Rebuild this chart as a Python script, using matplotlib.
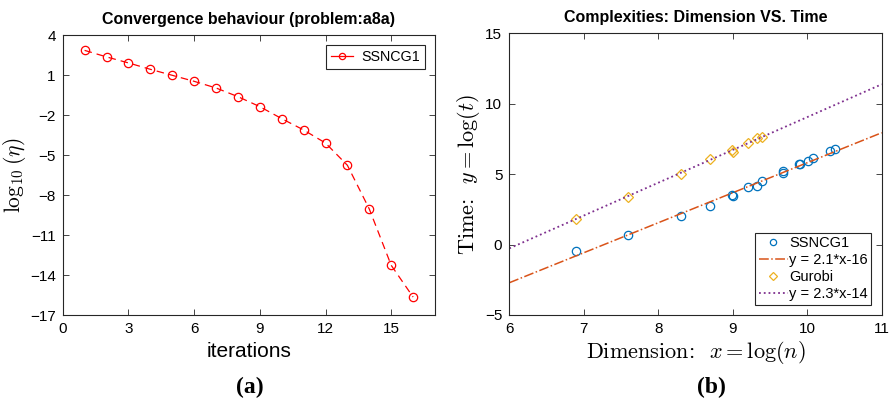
import matplotlib
matplotlib.use("Agg")
import matplotlib.pyplot as plt
import numpy as np

plt.rcParams['font.family'] = ['Liberation Sans', 'DejaVu Sans']
plt.rcParams['mathtext.fontset'] = 'cm'

# ---- data: panel (a) ----
iterations = [1, 2, 3, 4, 5, 6, 7, 8, 9, 10, 11, 12, 13, 14, 15, 16]
log_eta = [2.87, 2.38, 1.93, 1.45, 1.0, 0.55, 0.05, -0.6, -1.35, -2.25,
           -3.1, -4.08, -5.75, -9.03, -13.25, -15.63]

# ---- data: panel (b) ----
ssncg_x = [6.90, 7.60, 8.30, 8.70, 8.99, 9.00, 9.21, 9.32, 9.39, 9.68, 9.68,
           9.89, 9.90, 10.01, 10.08, 10.31, 10.37]
ssncg_y = [-0.46, 0.68, 2.05, 2.76, 3.51, 3.44, 4.11, 4.15, 4.53, 5.22, 5.06,
           5.70, 5.74, 5.93, 6.12, 6.62, 6.78]
gurobi_x = [6.90, 7.60, 8.30, 8.70, 8.99, 9.00, 9.21, 9.32, 9.39]
gurobi_y = [1.79, 3.40, 5.01, 6.05, 6.71, 6.55, 7.23, 7.59, 7.63]
fit1 = (2.13, -15.49)   # slope, intercept (label y = 2.1*x-16)
fit2 = (2.33, -14.25)   # slope, intercept (label y = 2.3*x-14)
fit_x = [6, 11]

W, H = 893, 405
fig = plt.figure(figsize=(W / 100, H / 100), dpi=100)

axcol = '#262626'

def style(ax):
    for s in ax.spines.values():
        s.set_color(axcol)
        s.set_linewidth(0.8)
    ax.tick_params(direction='in', top=True, right=True, colors=axcol,
                   labelsize=11, length=4, width=0.6, pad=5)
    for t in ax.get_xticklabels() + ax.get_yticklabels():
        t.set_color('black')

# ---- panel (a) ----
ax1 = fig.add_axes([62.7 / W, 1 - 315.3 / H, 372.3 / W, 280 / H])
ax1.plot(iterations, log_eta, linestyle=(0, (6, 4)), color='red', lw=0.9,
         marker='o', markersize=6, markerfacecolor='none',
         markeredgecolor='red', markeredgewidth=0.9, label='SSNCG1')
ax1.set_xlim(0, 17)
ax1.set_ylim(-17, 4)
ax1.set_xticks([0, 3, 6, 9, 12, 15])
ax1.set_yticks([4, 1, -2, -5, -8, -11, -14, -17])
style(ax1)
ax1.set_title('Convergence behaviour (problem:a8a)', fontsize=11.5,
              fontweight='bold', pad=8)
ax1.set_xlabel('iterations', fontsize=15, labelpad=4)
ax1.set_ylabel(r'$\log_{10}(\eta)$', fontsize=15.5, labelpad=1)
leg1 = ax1.legend(loc='upper right', fontsize=10.3, fancybox=False,
                  edgecolor=axcol, framealpha=1, handlelength=1.5,
                  borderaxespad=0.7, handletextpad=0.6,
                  borderpad=0.35)
leg1.get_frame().set_linewidth(0.8)
for h in leg1.legend_handles:
    h.set_markersize(4.5)
    h.set_linestyle('-')

# ---- panel (b) ----
ax2 = fig.add_axes([509.3 / W, 1 - 315 / H, 372.4 / W, 281.7 / H])
fx = np.array(fit_x, dtype=float)
ax2.plot(ssncg_x, ssncg_y, linestyle='none', marker='o', markersize=6,
         markerfacecolor='none', markeredgecolor='#0072BD',
         markeredgewidth=0.9, label='SSNCG1')
ax2.plot(fx, fit1[0] * fx + fit1[1], linestyle='-.', color='#D95319', lw=1.1,
         label='y = 2.1*x-16')
ax2.plot(gurobi_x, gurobi_y, linestyle='none', marker='D', markersize=5.5,
         markerfacecolor='none', markeredgecolor='#EDB120',
         markeredgewidth=0.9, label='Gurobi')
ax2.plot(fx, fit2[0] * fx + fit2[1], linestyle=':', color='#7E2F8E', lw=1.3,
         label='y = 2.3*x-14')
ax2.set_xlim(6, 11)
ax2.set_ylim(-5, 15)
ax2.set_xticks([6, 7, 8, 9, 10, 11])
ax2.set_yticks([-5, 0, 5, 10, 15])
style(ax2)
ax2.set_title('Complexities: Dimension VS. Time', fontsize=11.5,
              fontweight='bold', pad=8)
ax2.set_xlabel(r'Dimension:  $x = \log(n)$', fontsize=16, labelpad=2,
               fontfamily='cmr10')
ax2.set_ylabel(r'Time:  $y = \log(t)$', fontsize=16, labelpad=2,
               fontfamily='cmr10')
leg2 = ax2.legend(loc='lower right', fontsize=10.5, fancybox=False,
                  edgecolor=axcol, framealpha=1, handlelength=2.0,
                  borderaxespad=0.7, handletextpad=0.1,
                  borderpad=0.25, labelspacing=0.2)
leg2.get_frame().set_linewidth(0.8)
for h in leg2.legend_handles:
    h.set_markersize(4.5)

# ---- sub-figure labels ----
fig.text(250 / W, 1 - 387 / H, '(a)', fontsize=17, fontweight='bold',
         family='Liberation Serif', ha='center', va='center')
fig.text(711.7 / W, 1 - 387 / H, '(b)', fontsize=17, fontweight='bold',
         family='Liberation Serif', ha='center', va='center')

fig.savefig('out.png', dpi=100)
